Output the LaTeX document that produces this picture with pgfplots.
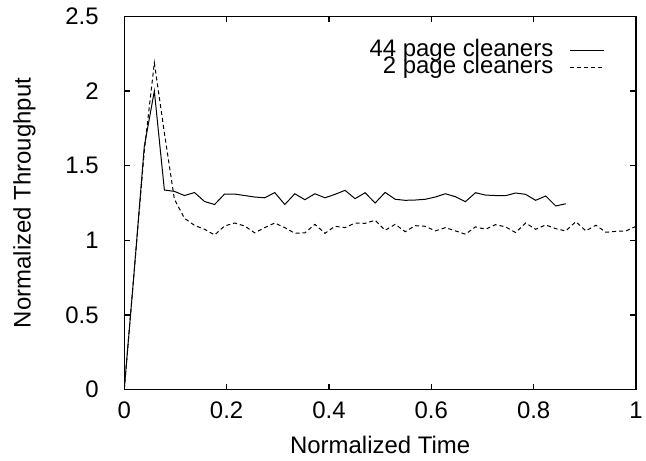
\documentclass[border=0pt]{standalone}
\usepackage{pgfplots}
\pgfplotsset{compat=1.18}
\usepackage{fontspec}
\setmainfont{Liberation Sans}
\begin{document}
\fontsize{18}{21}\selectfont
\begin{tikzpicture}
\begin{axis}[
  scale only axis,
  width=384.75pt, height=280.5pt,
  xmin=0, xmax=1, ymin=0, ymax=2.5,
  xtick={0,0.2,0.4,0.6,0.8,1},
  ytick={0,0.5,1,1.5,2,2.5},
  xticklabels={0,0.2,0.4,0.6,0.8,1},
  yticklabels={0,0.5,1,1.5,2,2.5},
  tick align=inside,
  major tick length=4.5pt,
  axis line style={line width=1pt},
  every tick/.style={black, line width=1pt},
  xlabel={Normalized Time},
  ylabel={Normalized Throughput},
  xticklabel style={inner xsep=2.5pt, yshift=-3pt},
  yticklabel style={xshift=-13pt},
  xlabel style={inner sep=5pt, yshift=-2pt},
  ylabel style={at={(axis description cs:-0.195,0.5)}, anchor=center, inner sep=10pt},
  legend style={draw=none, fill=none, inner sep=0pt, at={(0.9396,0.9217)}, anchor=north east,
    row sep=0pt, column sep=12pt,
    nodes={inner sep=0pt, text height=8pt, text depth=4.5pt},
    font=\fontsize{18}{21}\selectfont},
  legend cell align=right,
  legend plot pos=right,
  legend image code/.code={\draw[#1] (0pt,2.5pt) -- (26pt,2.5pt);},
]
\addplot[black, line width=0.75pt] coordinates {
(0,0) (0.0196,0.8) (0.0392,1.63) (0.0588,2.0) (0.0784,1.337) (0.0980,1.328)
(0.1176,1.30) (0.1373,1.32) (0.1569,1.26) (0.1765,1.24) (0.1961,1.31)
(0.2157,1.31) (0.2353,1.30) (0.2549,1.29) (0.2745,1.285) (0.2941,1.32)
(0.3137,1.24) (0.3333,1.312) (0.3529,1.272) (0.3725,1.312) (0.3922,1.285)
(0.4118,1.308) (0.4314,1.335) (0.4510,1.279) (0.4706,1.319) (0.4902,1.25)
(0.5098,1.321) (0.5294,1.275) (0.5490,1.268) (0.5686,1.27) (0.5882,1.275)
(0.6078,1.29) (0.6275,1.312) (0.6471,1.292) (0.6667,1.259) (0.6863,1.319)
(0.7059,1.303) (0.7255,1.30) (0.7451,1.299) (0.7647,1.317) (0.7843,1.308)
(0.8039,1.268) (0.8235,1.297) (0.8431,1.23) (0.8627,1.245)
};
\addlegendentry{44 page cleaners}
\addplot[black, line width=0.75pt, dash pattern=on 3pt off 2.25pt] coordinates {
(0,0) (0.0196,0.8) (0.0392,1.6) (0.0588,2.19) (0.0784,1.72) (0.0980,1.275)
(0.1176,1.148) (0.1373,1.10) (0.1569,1.074) (0.1765,1.036) (0.1961,1.096)
(0.2157,1.116) (0.2353,1.096) (0.2549,1.05) (0.2745,1.085) (0.2941,1.116)
(0.3137,1.085) (0.3333,1.047) (0.3529,1.05) (0.3725,1.107) (0.3922,1.047)
(0.4118,1.094) (0.4314,1.085) (0.4510,1.116) (0.4706,1.114) (0.4902,1.134)
(0.5098,1.067) (0.5294,1.107) (0.5490,1.058) (0.5686,1.098) (0.5882,1.094)
(0.6078,1.063) (0.6275,1.085) (0.6471,1.063) (0.6667,1.041) (0.6863,1.09)
(0.7059,1.074) (0.7255,1.105) (0.7451,1.09) (0.7647,1.052) (0.7843,1.116)
(0.8039,1.074) (0.8235,1.103) (0.8431,1.078) (0.8627,1.063) (0.8824,1.125)
(0.9020,1.063) (0.9216,1.101) (0.9412,1.054) (0.9608,1.06) (0.9804,1.063)
(1.0,1.094)
};
\addlegendentry{2 page cleaners}
\end{axis}
\end{tikzpicture}
\end{document}
